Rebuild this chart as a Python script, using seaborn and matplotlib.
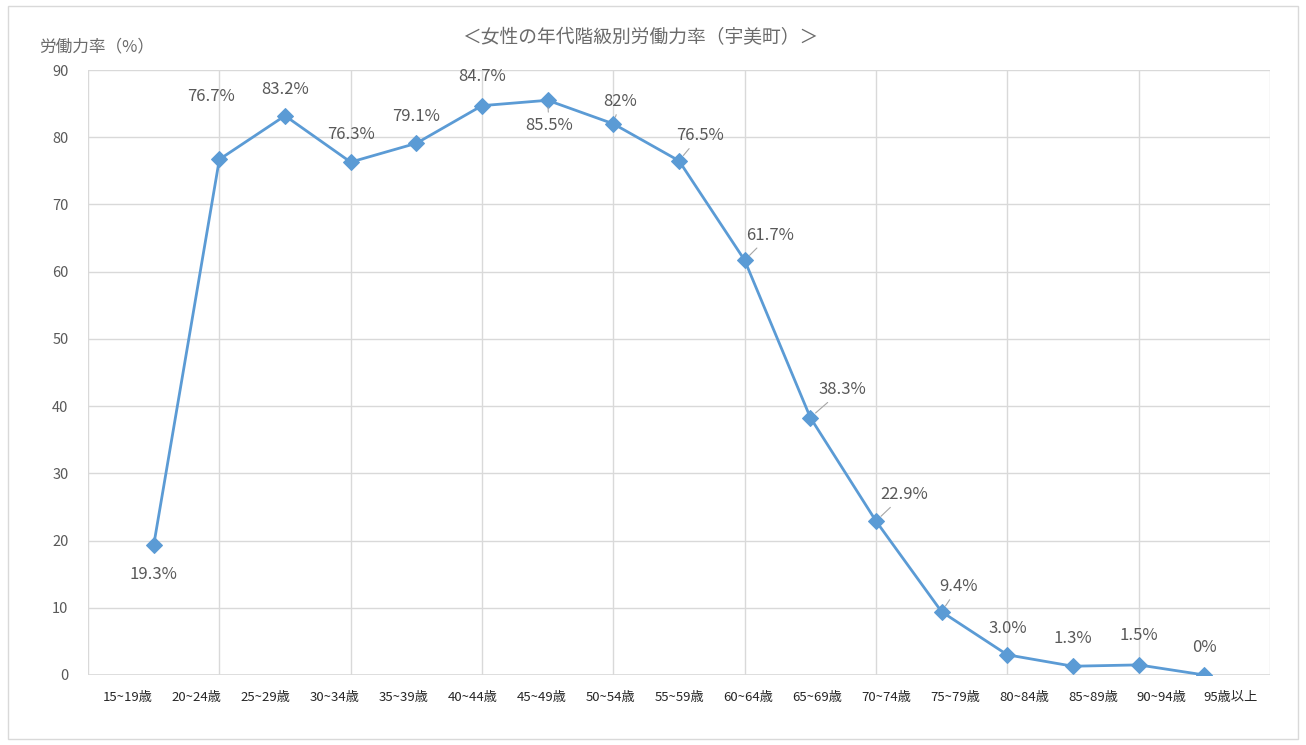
import numpy as np
import pandas as pd
import matplotlib
matplotlib.use("Agg")
import matplotlib.pyplot as plt
import seaborn as sns
from matplotlib.patches import Rectangle

ages = ["15~19歳", "20~24歳", "25~29歳", "30~34歳", "35~39歳", "40~44歳",
        "45~49歳", "50~54歳", "55~59歳", "60~64歳", "65~69歳", "70~74歳",
        "75~79歳", "80~84歳", "85~89歳", "90~94歳", "95歳以上"]
rates = [19.3, 76.7, 83.2, 76.3, 79.1, 84.7, 85.5, 82.0, 76.5, 61.7,
         38.3, 22.9, 9.4, 3.0, 1.3, 1.5, 0.0]
labels = ["19.3%", "76.7%", "83.2%", "76.3%", "79.1%", "84.7%", "85.5%", "82%",
          "76.5%", "61.7%", "38.3%", "22.9%", "9.4%", "3.0%", "1.3%", "1.5%", "0%"]
# label offsets in points (dx, dy) and whether a leader line is drawn
offsets = [(0, -21), (-6, 45), (0, 19), (0, 20), (0, 19), (0, 21),
           (1, -18), (5, 16), (15, 18), (18, 18), (23, 20), (20, 19),
           (12, 18), (0, 19), (0, 20), (0, 21), (0, 20)]
leaders = [False, False, False, False, False, False, True, True, True, True,
           True, True, True, False, False, False, False]

sns.set_theme(style="white")
plt.rcParams["font.family"] = ["Noto Sans CJK JP", "DejaVu Sans"]

df = pd.DataFrame({"pos": np.arange(len(ages)), "rate": rates})

fig = plt.figure(figsize=(13.06, 7.45), dpi=100)
fig.patches.append(Rectangle((0.006, 0.008), 0.988, 0.984, transform=fig.transFigure,
                             fill=False, edgecolor="#d9d9d9", linewidth=1))
ax = fig.add_axes([0.0674, 0.094, 0.905, 0.812])

color = "#5b9bd5"
grey = "#595959"
sns.lineplot(data=df, x="pos", y="rate", ax=ax, color=color, linewidth=2,
             marker="D", markersize=8, markeredgecolor=color, zorder=3)

ax.set_xlim(-1, len(ages))
ax.set_ylim(0, 90)
ax.set_yticks(range(0, 91, 10))
ax.set_xticks(np.arange(-1, len(ages) + 1, 2))
ax.set_xticklabels([])
ax.tick_params(axis="both", length=0)
ax.tick_params(axis="y", labelsize=10.5, labelcolor=grey, pad=14)
ax.grid(True, color="#d9d9d9", linewidth=1)
for s in ax.spines.values():
    s.set_visible(False)
ax.axhline(0, color="#d9d9d9", linewidth=1.2, zorder=1)
ax.set_xlabel("")
ax.set_ylabel("")

# category labels are spread slightly wider than the points in the original
for i, a in enumerate(ages):
    ax.text(-0.396 + 1.05 * i, -3.4, a, ha="center", va="center",
            fontsize=9.5, color="#262626")

for i, (v, lab) in enumerate(zip(rates, labels)):
    dx, dy = offsets[i]
    props = None
    if leaders[i]:
        props = dict(arrowstyle="-", color="#a6a6a6", linewidth=0.8, shrinkA=1, shrinkB=5)
    ax.annotate(lab, xy=(i, v), xytext=(dx, dy), textcoords="offset points",
                ha="center", va="center", fontsize=12, color=grey, arrowprops=props)

fig.text(0.49, 0.949, "＜女性の年代階級別労働力率（宇美町）＞", ha="center", va="center",
         fontsize=13.5, color="#6b6b6b")
fig.text(0.03, 0.937, "労働力率（%）", ha="left", va="center", fontsize=12, color="#6b6b6b")

fig.savefig("out.png", dpi=100)
